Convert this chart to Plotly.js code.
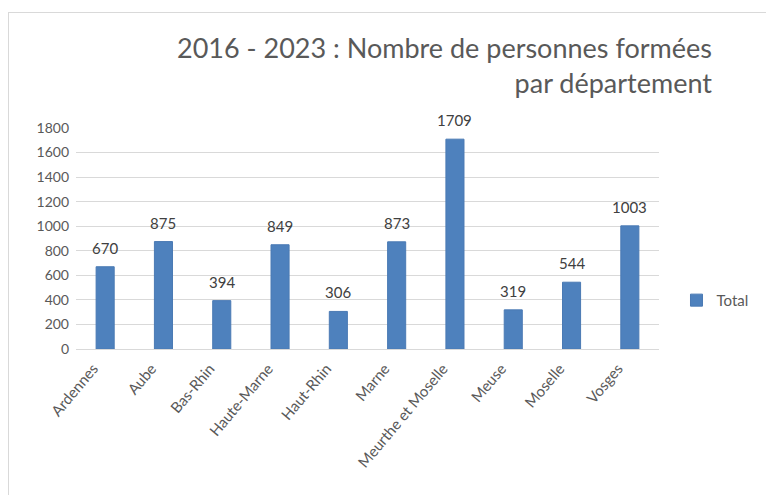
<!DOCTYPE html>
<html><head><meta charset="utf-8">
<script src="https://cdn.plot.ly/plotly-3.0.1.min.js"></script>
<style>body{margin:0;background:#fff}#frame{position:absolute;left:8px;top:12px;width:800px;height:600px;border-left:1px solid #d9d9d9;border-top:1px solid #d9d9d9;pointer-events:none}</style>
</head><body>
<div id="chart" style="width:766px;height:495px;position:absolute;left:0;top:0"></div>
<div id="frame"></div>
<script>
const categories = ["Ardennes","Aube","Bas-Rhin","Haute-Marne","Haut-Rhin","Marne","Meurthe et Moselle","Meuse","Moselle","Vosges"];
const totals = [670,875,394,849,306,873,1709,319,544,1003];
const yTicks = [0,200,400,600,800,1000,1200,1400,1600,1800];
const fontFam = "Lato, 'Open Sans', sans-serif";

const trace = {
  type:'bar', x:categories, y:totals, name:'Total',
  marker:{color:'#4e81bd', line:{color:'#4a7ab4', width:1}},
  hoverinfo:'x+y'
};
const annotations = categories.map((c,i)=>({
  x:c, y:totals[i], xref:'x', yref:'y', text:String(totals[i]), showarrow:false,
  yanchor:'bottom', yshift:8, font:{family:fontFam,size:15,color:'#404040'}
}));
annotations.push({
  xref:'paper', yref:'paper', x:1.094, y:1.45, xanchor:'right', yanchor:'top', align:'right',
  text:'2016 - 2023 : Nombre de personnes formées<br>par département', showarrow:false,
  font:{family:fontFam,size:27,color:'#595959'}
});
const layout = {
  width:766, height:495,
  margin:{l:76, r:100, t:128, b:146},
  paper_bgcolor:'#fff', plot_bgcolor:'#fff',
  bargap:0.69,
  showlegend:true,
  legend:{x:1.03, y:0.22, yanchor:'middle', xanchor:'left', itemwidth:30, font:{family:fontFam,size:15,color:'#595959'}, bgcolor:'rgba(0,0,0,0)'},
  xaxis:{tickangle:-50, ticklabelshift:-12, ticklabelstandoff:4, tickfont:{family:fontFam,size:15,color:'#595959'}, showline:true, linecolor:'#d9d9d9', ticks:'', showgrid:false},
  yaxis:{range:[0,1800], tickvals:yTicks, ticktext:yTicks.map(String), tickfont:{family:fontFam,size:14,color:'#595959'}, gridcolor:'#d9d9d9', zeroline:false, showline:false, ticks:'', ticklabelstandoff:6},
  annotations:annotations
};
Plotly.newPlot('chart',[trace],layout,{displayModeBar:false,staticPlot:true});
</script>
</body></html>
